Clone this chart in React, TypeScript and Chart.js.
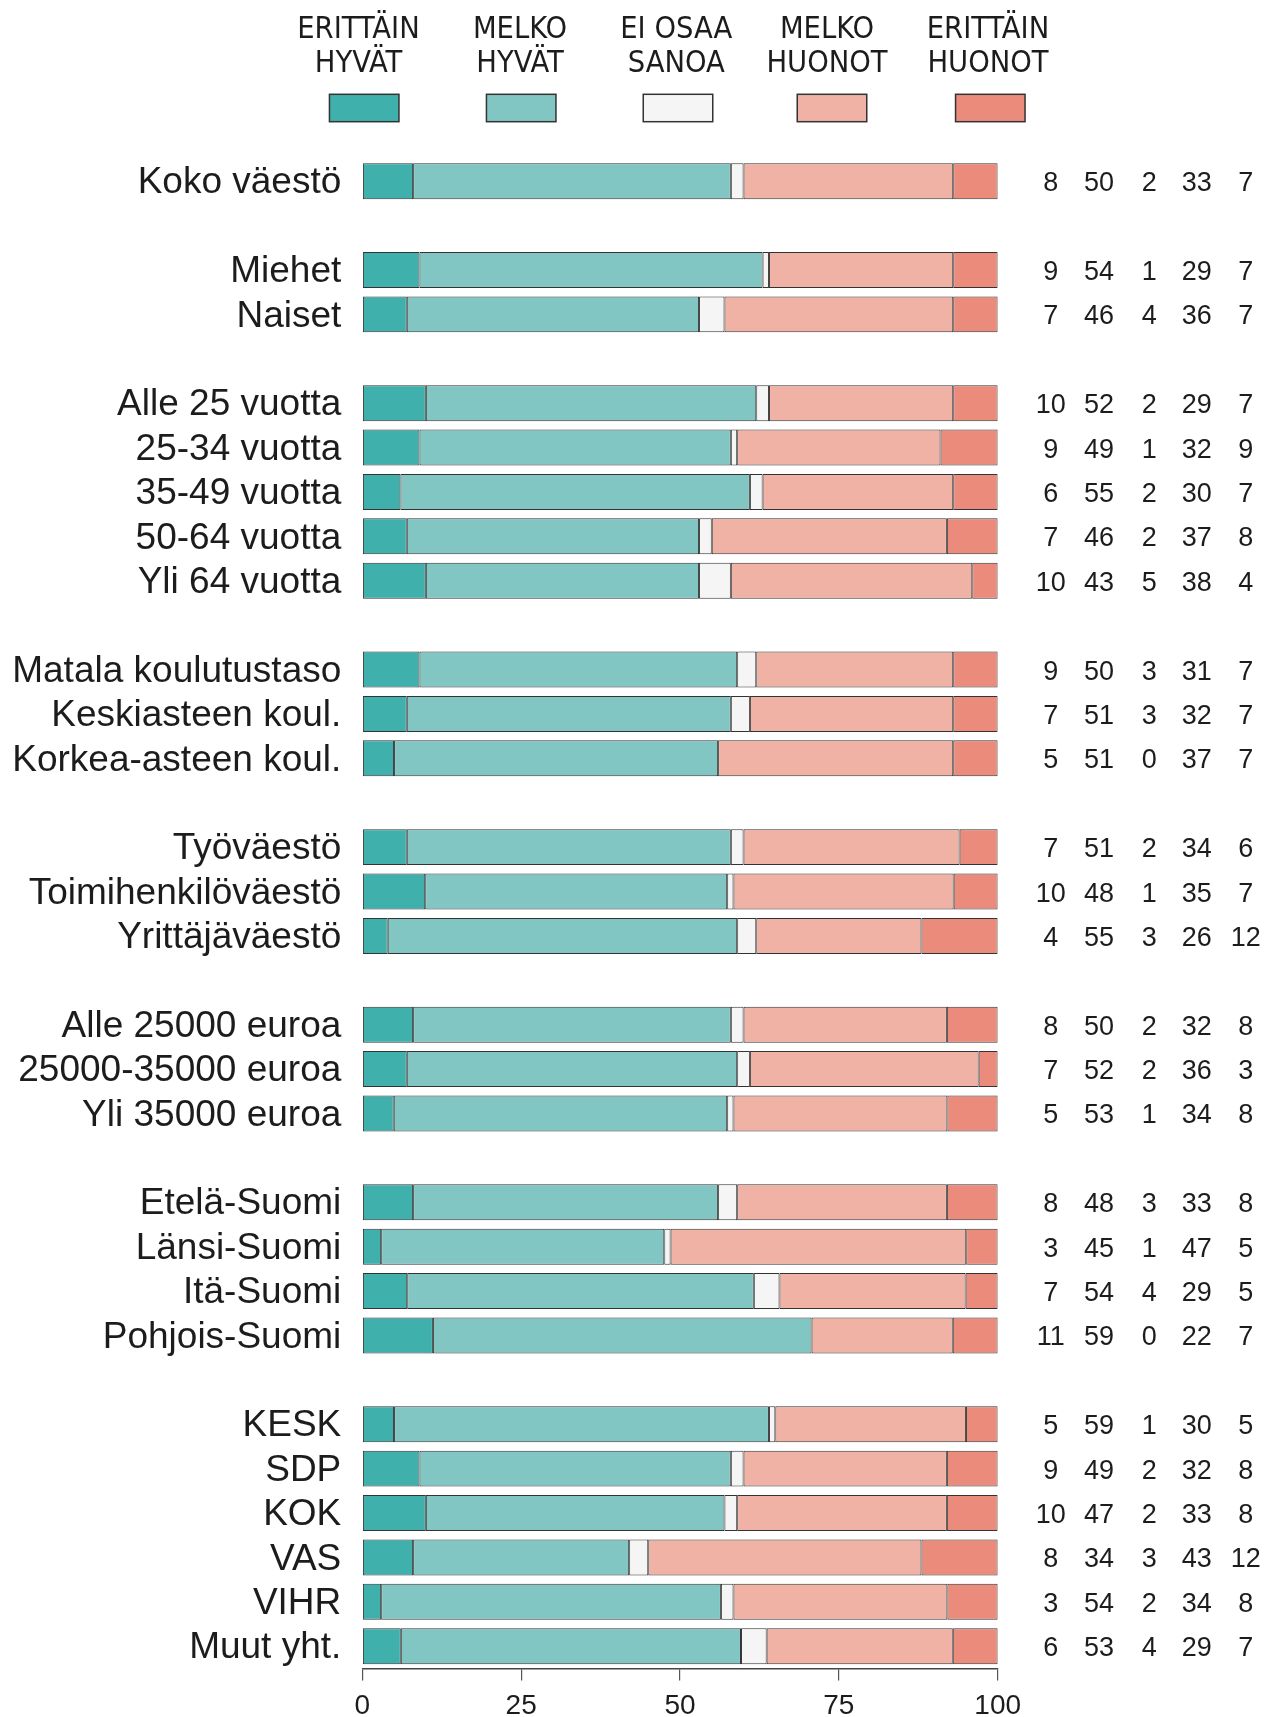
import React, { useEffect, useRef } from "react";
import { Chart, registerables } from "chart.js";

Chart.register(...registerables);

// ---- data ----
const categories: string[] = [
  "Koko väestö", "",
  "Miehet", "Naiset", "",
  "Alle 25 vuotta", "25-34 vuotta", "35-49 vuotta", "50-64 vuotta", "Yli 64 vuotta", "",
  "Matala koulutustaso", "Keskiasteen koul.", "Korkea-asteen koul.", "",
  "Työväestö", "Toimihenkilöväestö", "Yrittäjäväestö", "",
  "Alle 25000 euroa", "25000-35000 euroa", "Yli 35000 euroa", "",
  "Etelä-Suomi", "Länsi-Suomi", "Itä-Suomi", "Pohjois-Suomi", "",
  "KESK", "SDP", "KOK", "VAS", "VIHR", "Muut yht.",
];

const erittainHyvat: (number | null)[] = [8, null, 9, 7, null, 10, 9, 6, 7, 10, null, 9, 7, 5, null, 7, 10, 4, null, 8, 7, 5, null, 8, 3, 7, 11, null, 5, 9, 10, 8, 3, 6];
const melkoHyvat: (number | null)[] = [50, null, 54, 46, null, 52, 49, 55, 46, 43, null, 50, 51, 51, null, 51, 48, 55, null, 50, 52, 53, null, 48, 45, 54, 59, null, 59, 49, 47, 34, 54, 53];
const eiOsaaSanoa: (number | null)[] = [2, null, 1, 4, null, 2, 1, 2, 2, 5, null, 3, 3, 0, null, 2, 1, 3, null, 2, 2, 1, null, 3, 1, 4, 0, null, 1, 2, 2, 3, 2, 4];
const melkoHuonot: (number | null)[] = [33, null, 29, 36, null, 29, 32, 30, 37, 38, null, 31, 32, 37, null, 34, 35, 26, null, 32, 36, 34, null, 33, 47, 29, 22, null, 30, 32, 33, 43, 34, 29];
const erittainHuonot: (number | null)[] = [7, null, 7, 7, null, 7, 9, 7, 8, 4, null, 7, 7, 7, null, 6, 7, 12, null, 8, 3, 8, null, 8, 5, 5, 7, null, 5, 8, 8, 12, 8, 7];

const seriesNames: string[][] = [
  ["ERITTÄIN", "HYVÄT"],
  ["MELKO", "HYVÄT"],
  ["EI OSAA", "SANOA"],
  ["MELKO", "HUONOT"],
  ["ERITTÄIN", "HUONOT"],
];
const xTicks: number[] = [0, 25, 50, 75, 100];

// ---- styles ----
const colors = ["#40B0AD", "#82C6C3", "#F5F5F5", "#F0B2A4", "#EA8B7C"];
const borderCol = "#333333";
const textCol = "#1c1c1c";
const labelFont = '"Liberation Sans", Arial, sans-serif';
const narrowFont = '"Liberation Sans Narrow", "Arial Narrow", "DejaVu Sans Condensed", sans-serif';

const allSeries = [erittainHyvat, melkoHyvat, eiOsaaSanoa, melkoHuonot, erittainHuonot];

export default function App() {
  const ref = useRef<HTMLCanvasElement | null>(null);

  useEffect(() => {
    const canvas = ref.current;
    if (!canvas) return;

    const totals = categories.map((_, i) => {
      let s = 0;
      let any = false;
      allSeries.forEach((ser) => {
        const v = ser[i];
        if (v != null) { s += v; any = true; }
      });
      return any ? s : null;
    });

    const datasets = allSeries.map((ser, k) => ({
      label: seriesNames[k].join(" "),
      data: ser.map((v, i) => (v == null || !totals[i] ? null : (v / (totals[i] as number)) * 100)),
      backgroundColor: colors[k],
      borderColor: borderCol,
      borderWidth: 1,
      borderSkipped: false as const,
      barPercentage: 0.81,
      categoryPercentage: 1,
    }));

    const overlay = {
      id: "overlay",
      afterDraw(chart: any) {
        const ctx = chart.ctx as CanvasRenderingContext2D;
        const area = chart.chartArea;
        const yScale = chart.scales.y;
        ctx.save();
        // legend
        const textCenters = [358.5, 520, 676.3, 827, 988];
        const swatchCenters = [364.2, 521.2, 678, 832, 990.3];
        ctx.font = `30.5px ${narrowFont}`;
        ctx.fillStyle = textCol;
        ctx.textAlign = "center";
        ctx.textBaseline = "alphabetic";
        seriesNames.forEach((lines, k) => {
          ctx.fillText(lines[0], textCenters[k], 37.5);
          ctx.fillText(lines[1], textCenters[k], 71.7);
          ctx.fillStyle = colors[k];
          ctx.fillRect(swatchCenters[k] - 34.75, 94.3, 69.5, 27.4);
          ctx.strokeStyle = borderCol;
          ctx.lineWidth = 1.5;
          ctx.strokeRect(swatchCenters[k] - 34.75, 94.3, 69.5, 27.4);
          ctx.fillStyle = textCol;
        });
        // values on right
        const colOffsets = [53, 101.3, 151.6, 199, 248];
        ctx.font = `27px ${labelFont}`;
        ctx.textAlign = "center";
        categories.forEach((c, i) => {
          if (!c) return;
          const y = yScale.getPixelForValue(i) + 10;
          allSeries.forEach((ser, k) => {
            const v = ser[i];
            if (v == null) return;
            ctx.fillText(String(v), area.right + colOffsets[k], y);
          });
        });
        ctx.restore();
      },
    };

    const chart = new Chart(canvas, {
      type: "bar",
      data: { labels: categories, datasets },
      options: {
        indexAxis: "y",
        responsive: false,
        animation: false,
        devicePixelRatio: 1,
        layout: { padding: { top: 159, right: 278.3, left: 0, bottom: 0 } },
        plugins: {
          legend: { display: false },
          tooltip: { enabled: false },
        },
        scales: {
          x: {
            stacked: true,
            min: 0,
            max: 100,
            afterBuildTicks: (scale: any) => {
              scale.ticks = xTicks.map((v) => ({ value: v }));
            },
            afterFit: (scale: any) => {
              scale.height = 48.6;
            },
            grid: {
              drawOnChartArea: false,
              drawTicks: true,
              tickLength: 12,
              color: "#555",
              lineWidth: 1.2,
            },
            border: { display: true, color: "#444", width: 1.5 },
            ticks: {
              color: textCol,
              font: { family: labelFont, size: 28 },
              padding: 9,
              maxRotation: 0,
              autoSkip: false,
            },
          },
          y: {
            stacked: true,
            afterFit: (scale: any) => {
              scale.width = 362.3;
            },
            grid: { display: false },
            border: { display: false },
            ticks: {
              color: textCol,
              font: { family: labelFont, size: 37 },
              padding: 13,
              labelOffset: 2,
              autoSkip: false,
            },
          },
        },
      },
      plugins: [overlay],
    } as any);

    return () => chart.destroy();
  }, []);

  return (
    <div style={{ position: "absolute", left: 0, top: 0, width: 1276, height: 1717, background: "#fff" }}>
      <canvas ref={ref} width={1276} height={1717} style={{ display: "block", width: 1276, height: 1717 }} />
    </div>
  );
}
